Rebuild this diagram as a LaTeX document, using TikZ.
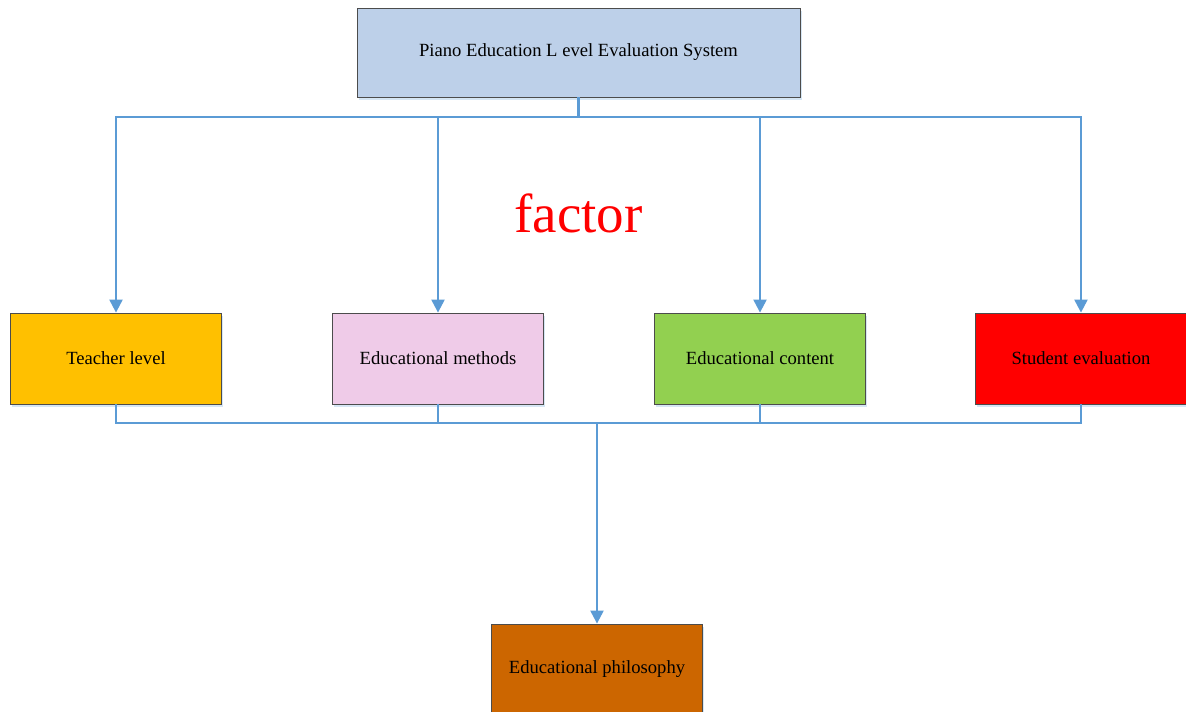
\documentclass[tikz,border=0pt]{standalone}
\usepackage{fontspec}
\setmainfont{Liberation Serif}
\usetikzlibrary{arrows.meta, positioning, shadows}
\definecolor{topblue}{HTML}{BDD0E9}
\definecolor{linkblue}{HTML}{5B9BD5}
\definecolor{teachcol}{HTML}{FFC000}
\definecolor{methodcol}{HTML}{EFCBE8}
\definecolor{contentcol}{HTML}{92D050}
\definecolor{philocol}{HTML}{CC6600}
\tikzstyle{levelbox} = [rectangle, minimum width=211pt, minimum height=91pt, text centered, draw=black!70, line width=0.8pt, font=\fontsize{18.6}{21}\selectfont, drop shadow={shadow xshift=1.5pt, shadow yshift=-3pt, fill=linkblue!25, opacity=1}]
\tikzstyle{link} = [draw=linkblue, line width=2.2pt]
\tikzstyle{linkarrow} = [link, -{Triangle[width=13pt,length=13pt]}]

\begin{document}
\begin{tikzpicture}[x=1pt, y=1pt]
\useasboundingbox (0,0) rectangle (1186,712);
\node (system) [levelbox, fill=topblue, minimum width=443pt, minimum height=89pt] at (578.5,659.5) {Piano Education L evel Evaluation System};
\node (teacher) [levelbox, fill=teachcol] at (116,353.5) {Teacher level};
\node (methods) [levelbox, fill=methodcol] at (438,353.5) {Educational methods};
\node (content) [levelbox, fill=contentcol] at (760,353.5) {Educational content};
\node (student) [levelbox, fill=red] at (1081,353.5) {Student evaluation};
\node (philosophy) [levelbox, fill=philocol] at (597,42.5) {Educational philosophy};
\node (factor) [text=red, font=\fontsize{55}{60}\selectfont] at (578.5,499) {factor};
\coordinate (split) at (578.5,595);
\coordinate (join) at (597,289);
\draw [link] (system.south) -- (split);
\foreach \n in {teacher, methods, content, student}
  \draw [linkarrow] (split) -| (\n.north);
\foreach \n in {teacher, methods, content, student}
  \draw [link] (\n.south) |- (join);
\draw [linkarrow] (join) -- (philosophy.north);
\end{tikzpicture}
\end{document}
